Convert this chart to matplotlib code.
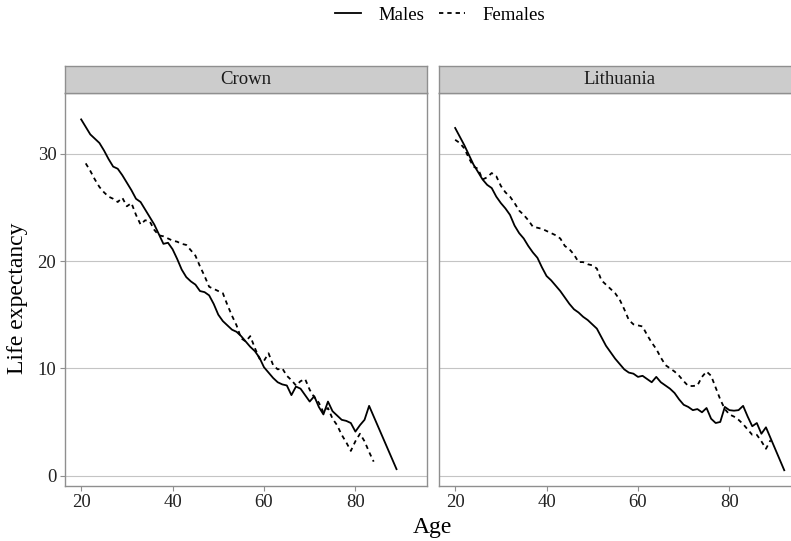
import matplotlib
matplotlib.use("Agg")
import matplotlib.pyplot as plt
from matplotlib.lines import Line2D

plt.rcParams['font.family'] = ['Liberation Serif', 'DejaVu Serif']

# Crown
crown_m_age = list(range(20, 84)) + [89]
crown_m = [33.2, 32.5, 31.8, 31.4, 31.0, 30.3, 29.5, 28.8, 28.6, 28.0,
           27.3, 26.6, 25.8, 25.5, 24.8, 24.1, 23.4, 22.5, 21.6, 21.7,
           21.1, 20.2, 19.2, 18.5, 18.1, 17.8, 17.2, 17.1, 16.8, 16.0,
           15.0, 14.4, 14.0, 13.6, 13.4, 13.0, 12.5, 12.0, 11.6, 11.0,
           10.1, 9.6, 9.1, 8.7, 8.5, 8.4, 7.5, 8.3, 8.1, 7.5,
           6.9, 7.4, 6.4, 5.7, 6.9, 6.0, 5.6, 5.2, 5.1, 4.9,
           4.1, 4.7, 5.2, 6.5, 0.6]
crown_f_age = list(range(21, 85))
crown_f = [29.1, 28.4, 27.6, 26.9, 26.4, 26.0, 25.8, 25.5, 25.9,
           25.1, 25.4, 24.3, 23.4, 23.8, 23.7, 22.9, 22.4, 22.3, 22.1,
           21.9, 21.8, 21.6, 21.5, 21.0, 20.5, 19.5, 18.6, 17.6, 17.4,
           17.2, 17.0, 15.9, 14.9, 14.0, 12.8, 12.5, 13.0, 11.9, 10.9,
           10.7, 11.4, 10.3, 9.9, 10.0, 9.3, 8.9, 8.4, 8.8, 9.0,
           8.0, 7.3, 6.8, 5.9, 6.3, 5.3, 4.7, 3.8, 3.1, 2.3,
           3.2, 3.9, 3.2, 2.2, 1.3]

# Lithuania
lit_m_age = list(range(20, 89)) + [92]
lit_m = [32.4, 31.6, 30.8, 29.9, 29.0, 28.3, 27.6, 27.1, 26.8, 26.0,
         25.4, 24.9, 24.3, 23.3, 22.6, 22.1, 21.4, 20.8, 20.3, 19.4,
         18.6, 18.2, 17.7, 17.2, 16.6, 16.0, 15.5, 15.2, 14.8, 14.5,
         14.1, 13.7, 12.9, 12.1, 11.5, 10.9, 10.4, 9.9, 9.6, 9.5,
         9.2, 9.3, 9.0, 8.7, 9.2, 8.7, 8.4, 8.1, 7.7, 7.1,
         6.6, 6.4, 6.1, 6.2, 5.9, 6.3, 5.3, 4.9, 5.0, 6.4,
         6.1, 6.05, 6.1, 6.5, 5.5, 4.6, 4.9, 3.9, 4.5, 0.5]
lit_f_age = list(range(20, 90))
lit_f = [31.3, 31.0, 30.5, 29.6, 28.8, 28.6, 27.6, 27.8, 28.2, 27.9,
         27.0, 26.4, 26.0, 25.4, 24.7, 24.3, 23.8, 23.2, 23.1, 23.0,
         22.8, 22.6, 22.4, 22.1, 21.4, 21.1, 20.6, 19.9, 19.9, 19.7,
         19.6, 19.3, 18.2, 17.8, 17.4, 17.0, 16.4, 15.5, 14.5, 14.1,
         14.0, 13.9, 13.1, 12.4, 11.8, 11.0, 10.3, 10.0, 9.7, 9.3,
         8.8, 8.35, 8.35, 8.4, 9.2, 9.7, 9.3, 8.2, 7.1, 6.2,
         5.7, 5.5, 5.2, 4.8, 4.3, 3.8, 3.8, 3.2, 2.5, 3.3]

panels = [("Crown", crown_m_age, crown_m, crown_f_age, crown_f),
          ("Lithuania", lit_m_age, lit_m, lit_f_age, lit_f)]

W, H = 791, 541
fig = plt.figure(figsize=(W / 100, H / 100), dpi=100)

border = '#8f8f8f'
dash = (0, (2.4, 2.2))
lw = 1.3
lefts = [64.7, 438.7]
pw = 362
top, bot = 93, 486

for (name, ma, mv, fa, fv), lx in zip(panels, lefts):
    ax = fig.add_axes([lx / W, (H - bot) / H, pw / W, (bot - top) / H])
    ax.plot(ma, mv, color='black', lw=lw)
    ax.plot(fa, fv, color='black', lw=lw, linestyle=dash)
    ax.set_xlim(16.4, 95.6)
    ax.set_ylim(-0.97, 35.66)
    ax.set_xticks([20, 40, 60, 80])
    ax.set_yticks([0, 10, 20, 30])
    ax.grid(axis='y', color='#c4c4c4', lw=0.8)
    ax.set_axisbelow(True)
    for s in ax.spines.values():
        s.set_color(border)
        s.set_linewidth(1.0)
    ax.tick_params(colors=border, labelcolor='#222222', labelsize=13.5,
                   length=3.5, width=0.8, pad=2.5)
    if lx != lefts[0]:
        ax.tick_params(axis='y', left=False, labelleft=False)

    sax = fig.add_axes([lx / W, (H - top) / H, pw / W, 27 / H])
    sax.set_facecolor('#cccccc')
    sax.set_xticks([])
    sax.set_yticks([])
    for s in sax.spines.values():
        s.set_color(border)
        s.set_linewidth(1.0)
    sax.text(0.5, 0.5, name, ha='center', va='center', fontsize=13.5,
             color='#1a1a1a', transform=sax.transAxes)

fig.text(432 / W, 1 - 527 / H, "Age", ha='center', va='center', fontsize=17)
fig.text(18 / W, 1 - 298 / H, "Life expectancy", ha='center', va='center',
         rotation=90, fontsize=17)

handles = [Line2D([], [], color='black', lw=lw),
           Line2D([], [], color='black', lw=lw, linestyle=dash)]
fig.legend(handles, ["Males", "Females"], loc='center', ncol=2,
           bbox_to_anchor=(440 / W, 1 - 15 / H), frameon=False,
           fontsize=13.5, handlelength=1.4, columnspacing=0.8,
           handletextpad=0.9)

fig.savefig("out.png", dpi=100)
